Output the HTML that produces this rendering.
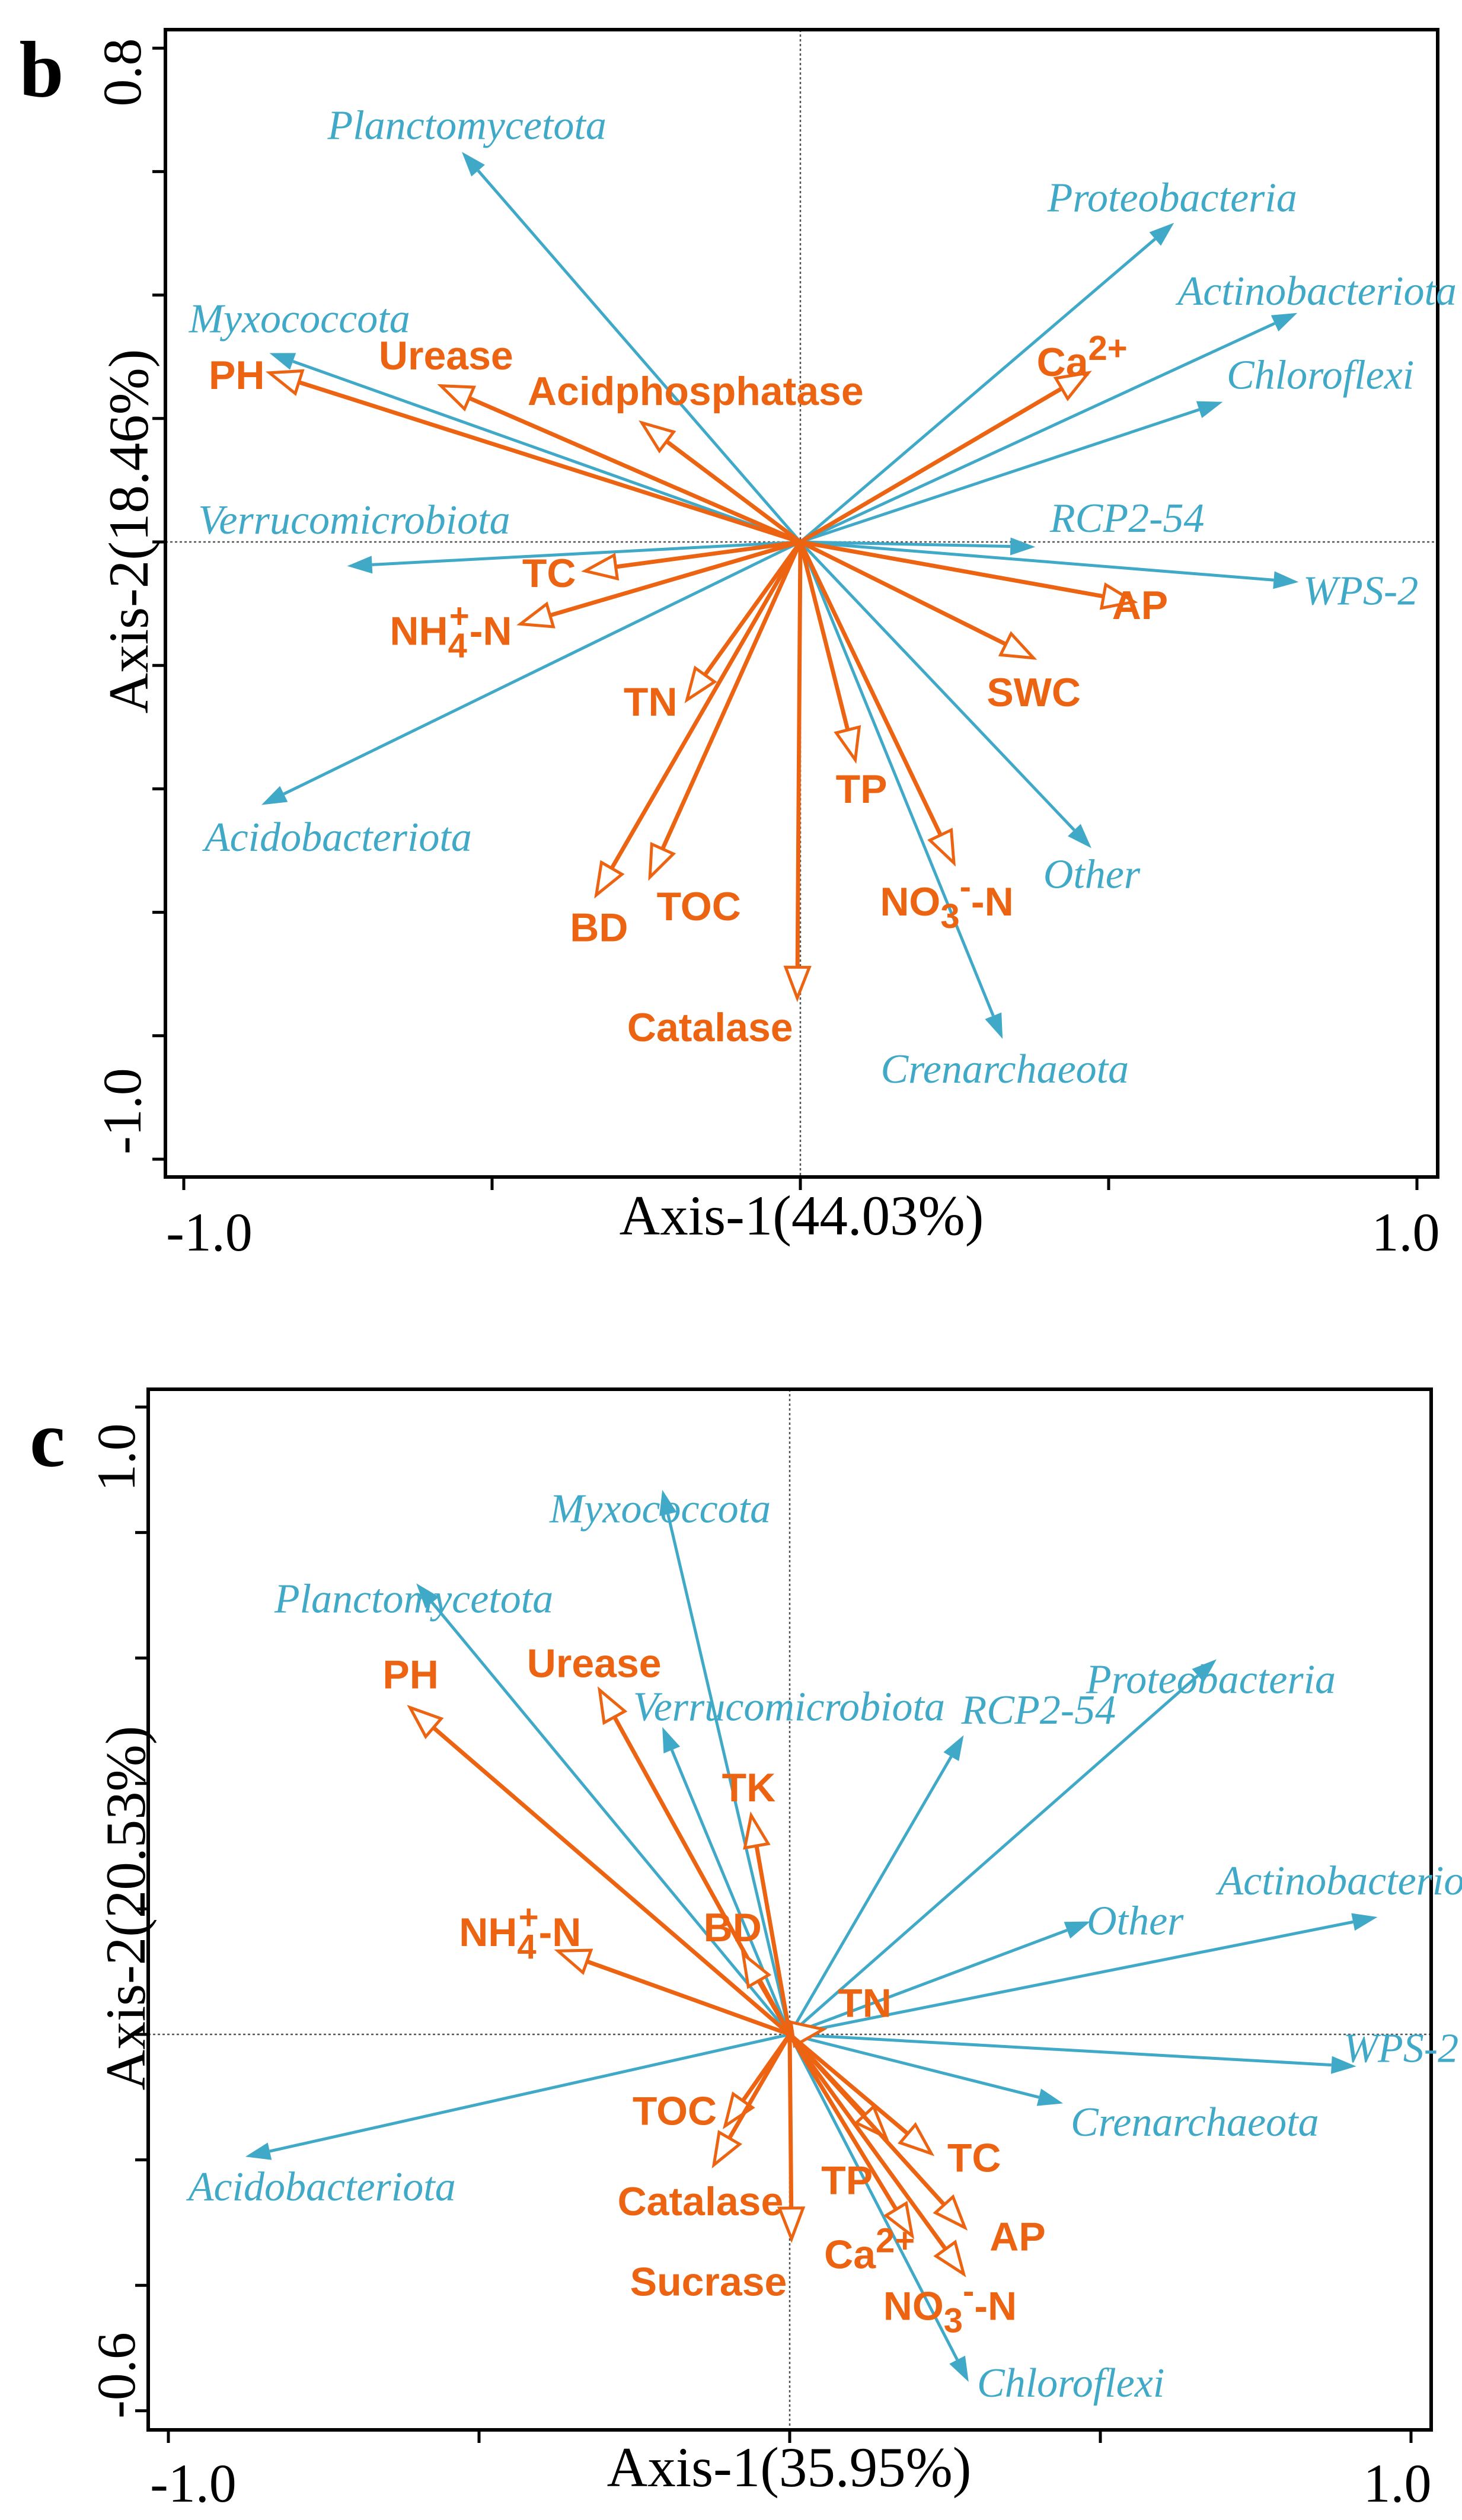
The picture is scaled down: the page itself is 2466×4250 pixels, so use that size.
<!DOCTYPE html>
<html><head><meta charset="utf-8">
<style>
html,body{margin:0;padding:0;background:#fff;}
svg{display:block;}
</style></head>
<body>
<svg id="chart" width="2466" height="4250" viewBox="0 0 2466 4250" xmlns="http://www.w3.org/2000/svg"></svg>
<script>
// ---------- Panel b data ----------
const bTaxa = ["Planctomycetota","Proteobacteria","Actinobacteriota","Chloroflexi","RCP2-54","WPS-2","Other","Crenarchaeota","Acidobacteriota","Verrucomicrobiota","Myxococcota"];
const bTaxaX = [-0.549,0.606,0.806,0.685,0.381,0.808,0.472,0.328,-0.874,-0.735,-0.861];
const bTaxaY = [0.632,0.517,0.371,0.227,-0.008,-0.065,-0.496,-0.805,-0.426,-0.039,0.306];
const bEnv = ["PH","Urease","Acidphosphatase","Ca2+","AP","SWC","TP","NO3-N","Catalase","TOC","BD","TN","NH4+-N","TC"];
const bEnvX = [-0.861,-0.583,-0.257,0.467,0.541,0.378,0.089,0.249,-0.005,-0.244,-0.331,-0.184,-0.454,-0.349];
const bEnvY = [0.274,0.253,0.193,0.274,-0.097,-0.188,-0.353,-0.520,-0.739,-0.543,-0.572,-0.256,-0.133,-0.047];
const bYTicks = [0.8,0.6,0.4,0.2,0,-0.2,-0.4,-0.6,-0.8,-1.0];
const bXTicks = [-1.0,-0.5,0,0.5,1.0];
// ---------- Panel c data ----------
const cTaxa = ["Myxococcota","Planctomycetota","Verrucomicrobiota","RCP2-54","Proteobacteria","Actinobacteriota","Other","WPS-2","Crenarchaeota","Chloroflexi","Acidobacteriota"];
const cTaxaX = [-0.205,-0.601,-0.205,0.280,0.687,0.946,0.484,0.912,0.440,0.288,-0.876];
const cTaxaY = [0.868,0.719,0.490,0.477,0.598,0.187,0.180,-0.051,-0.110,-0.554,-0.195];
const cEnv = ["PH","Urease","TK","BD","NH4+-N","TN","TOC","Catalase","Sucrase","TP","TC","Ca2+","AP","NO3-N"];
const cEnvX = [-0.611,-0.306,-0.062,-0.075,-0.373,0.054,-0.104,-0.122,0.003,0.155,0.228,0.197,0.282,0.280];
const cEnvY = [0.521,0.549,0.349,0.128,0.133,0.008,-0.146,-0.208,-0.326,-0.164,-0.190,-0.321,-0.308,-0.382];
const cYTicks = [1.0,0.8,0.6,0.4,0.2,0,-0.2,-0.4,-0.6];
const cXTicks = [-1.0,-0.5,0,0.5,1.0];

const S = 2.716;
const NS = "http://www.w3.org/2000/svg";
const svg = document.getElementById('chart');
const BLUE = "#3fa9c7", ORANGE = "#ec6412";

function mk(tag, attrs, parent){
  const e = document.createElementNS(NS, tag);
  for (const k in attrs) e.setAttribute(k, attrs[k]);
  (parent||svg).appendChild(e);
  return e;
}

const bTaxaLab = {"Planctomycetota":[290,78],"Proteobacteria":[728,123],"Actinobacteriota":[818,181],"Chloroflexi":[820,233],"RCP2-54":[700,322],"WPS-2":[845,367],"Other":[678,543],"Crenarchaeota":[624,664],"Acidobacteriota":[210,520],"Verrucomicrobiota":[220,323],"Myxococcota":[186,198]};
const bEnvLab = {"PH":[147,233],"Urease":[277,221],"Acidphosphatase":[432,243],"Ca2+":[672,225],"AP":[708,376],"SWC":[642,430],"TP":[535,490],"NO3-N":[588,560],"Catalase":[441,638],"TOC":[434,563],"BD":[372,576],"TN":[404,436],"NH4+-N":[280,392],"TC":[341,356]};
const cTaxaLab = {"Myxococcota":[410,937],"Planctomycetota":[257,993],"Verrucomicrobiota":[490,1060],"RCP2-54":[645,1062],"Proteobacteria":[752,1043],"Actinobacteriota":[843,1168],"Other":[705,1193],"WPS-2":[870,1272],"Crenarchaeota":[742,1318],"Chloroflexi":[665,1480],"Acidobacteriota":[200,1358]};
const cEnvLab = {"PH":[255,1040],"Urease":[369,1033],"TK":[465,1110],"BD":[455,1197],"NH4+-N":[323,1200],"TN":[537,1244],"TOC":[419,1311],"Catalase":[435,1367],"Sucrase":[440,1417],"TP":[526,1354],"TC":[605,1340],"Ca2+":[540,1400],"AP":[632,1389],"NO3-N":[590,1432]};

function envText(g, name, x, y){
  const t = mk('text',{x:x,y:y,'text-anchor':'middle','dominant-baseline':'central','font-family':'Liberation Sans, sans-serif','font-weight':'bold','font-size':68,fill:ORANGE},g);
  
  
  if (name==="Ca2+"){
    t.innerHTML = 'Ca<tspan dy="-24" font-size="58">2+</tspan>';
  } else if (name==="NO3-N"){
    t.innerHTML = 'NO<tspan dy="24" font-size="58">3</tspan><tspan dy="-50" font-size="58">-</tspan><tspan dy="26">-N</tspan>';
  } else if (name==="NH4+-N"){
    t.innerHTML = 'NH<tspan dy="24" font-size="58">4</tspan><tspan dx="-30" dy="-50" font-size="58">+</tspan><tspan dy="26">-N</tspan>';
  } else t.textContent = name;
}

function panel(o){
  const g = mk('g',{});
  
  
  const sx = v => o.cx + v*o.ux;
  const sy = v => o.cy - v*o.uy;
  const zl1 = mk('line',{x1:sx(0),x2:sx(0),y1:o.top,y2:o.bottom,stroke:'#555','stroke-width':2.5,'stroke-dasharray':'4,4'},g);
  
  
  const zl2 = mk('line',{x1:o.left,x2:o.right,y1:sy(0),y2:sy(0),stroke:'#555','stroke-width':2.5,'stroke-dasharray':'4,4'},g);
  
  
  const fr = mk('rect',{x:o.left,y:o.top,width:o.right-o.left,height:o.bottom-o.top,fill:'none',stroke:'#000','stroke-width':6},g);
  
  
  o.yTicks.forEach(v=>{
    const l = mk('line',{x1:o.left-22,x2:o.left,y1:sy(v),y2:sy(v),stroke:'#000','stroke-width':5},g);
    
    
  });
  o.xTicks.forEach(v=>{
    const l = mk('line',{x1:sx(v),x2:sx(v),y1:o.bottom,y2:o.bottom+22,stroke:'#000','stroke-width':5},g);
    
    
  });
  const xl1 = mk('text',{x:o.xlab1[0],y:o.xlab1[1],'text-anchor':'middle','dominant-baseline':'central','font-family':'Liberation Serif, serif','font-size':92},g);
  xl1.textContent = o.xTicks[0].toFixed(1);
  
  
  const xl2 = mk('text',{x:o.xlab2[0],y:o.xlab2[1],'text-anchor':'middle','dominant-baseline':'central','font-family':'Liberation Serif, serif','font-size':92},g);
  xl2.textContent = o.xTicks[o.xTicks.length-1].toFixed(1);
  
  
  [[o.ylab1,o.yTicks[0]],[o.ylab2,o.yTicks[o.yTicks.length-1]]].forEach((p,i)=>{
    const t = mk('text',{x:p[0][0],y:p[0][1],'text-anchor':'middle','dominant-baseline':'central','font-family':'Liberation Serif, serif','font-size':92,transform:`rotate(-90 ${p[0][0]} ${p[0][1]})`},g);
    t.textContent = p[1].toFixed(1);
    
    
  });
  const xt = mk('text',{x:o.xtitle[0],y:o.xtitle[1],'text-anchor':'middle','dominant-baseline':'central','font-family':'Liberation Serif, serif','font-size':95},g);
  xt.textContent = o.xTitleText;
  
  
  const yt = mk('text',{x:o.ytitle[0],y:o.ytitle[1],'text-anchor':'middle','dominant-baseline':'central','font-family':'Liberation Serif, serif','font-size':95,transform:`rotate(-90 ${o.ytitle[0]} ${o.ytitle[1]})`},g);
  yt.textContent = o.yTitleText;
  
  
  const pl = mk('text',{x:o.letterPos[0],y:o.letterPos[1],'text-anchor':'middle','dominant-baseline':'central','font-family':'Liberation Serif, serif','font-weight':'bold','font-size':135},g);
  pl.textContent = o.letter;
  
  

  const x0 = sx(0), y0 = sy(0);
  o.taxa.forEach((n,i)=>{
    const tx = sx(o.taxaX[i]), ty = sy(o.taxaY[i]);
    const dx = tx-x0, dy = ty-y0, L = Math.hypot(dx,dy), ux = dx/L, uy = dy/L;
    const hl = 42, hw = 15;
    const bx = tx-ux*hl, by = ty-uy*hl;
    const ln = mk('line',{x1:x0,y1:y0,x2:bx,y2:by,stroke:BLUE,'stroke-width':5},g);
    
    
    const hd = mk('polygon',{points:`${tx},${ty} ${bx-uy*hw},${by+ux*hw} ${bx+uy*hw},${by-ux*hw}`,fill:BLUE},g);
    
    
    const p = o.taxaLab[n];
    const t = mk('text',{x:p[0]*S,y:p[1]*S,'text-anchor':'middle','dominant-baseline':'central','font-family':'Liberation Serif, serif','font-style':'italic','font-size':70,fill:BLUE},g);
    t.textContent = n;
    
    
  });
  o.env.forEach((n,i)=>{
    const tx = sx(o.envX[i]), ty = sy(o.envY[i]);
    const dx = tx-x0, dy = ty-y0, L = Math.hypot(dx,dy), ux = dx/L, uy = dy/L;
    const hl = 52, hw = 20;
    const bx = tx-ux*hl, by = ty-uy*hl;
    const ln = mk('line',{x1:x0,y1:y0,x2:bx,y2:by,stroke:ORANGE,'stroke-width':7},g);
    
    
    const hd = mk('polygon',{points:`${tx},${ty} ${bx-uy*hw},${by+ux*hw} ${bx+uy*hw},${by-ux*hw}`,fill:'#fff',stroke:ORANGE,'stroke-width':5},g);
    
    
    const p = o.envLab[n];
    envText(g, n, p[0]*S, p[1]*S);
  });
}

panel({name:'panel-b', letter:'b', left:279, right:2425, top:50, bottom:1985, cx:1350, cy:914, ux:1040, uy:1041,
  yTicks:bYTicks, xTicks:bXTicks, taxa:bTaxa, taxaX:bTaxaX, taxaY:bTaxaY, env:bEnv, envX:bEnvX, envY:bEnvY,
  taxaLab:bTaxaLab, envLab:bEnvLab,
  xlab1:[353,2078], xlab2:[2371,2078], ylab1:[206,122], ylab2:[206,1874],
  xtitle:[1352,2050], ytitle:[217,896], letterPos:[70,118],
  xTitleText:'Axis-1(44.03%)', yTitleText:'Axis-2(18.46%)'});

panel({name:'panel-c', letter:'c', left:250, right:2414, top:2343, bottom:4098, cx:1332, cy:3431, ux:1048, uy:1058,
  yTicks:cYTicks, xTicks:cXTicks, taxa:cTaxa, taxaX:cTaxaX, taxaY:cTaxaY, env:cEnv, envX:cEnvX, envY:cEnvY,
  taxaLab:cTaxaLab, envLab:cEnvLab,
  xlab1:[326,4188], xlab2:[2357,4188], ylab1:[196,2458], ylab2:[196,4006],
  xtitle:[1331,4161], ytitle:[212,3218], letterPos:[80,2428],
  xTitleText:'Axis-1(35.95%)', yTitleText:'Axis-2(20.53%)'});
</script>
</body></html>
